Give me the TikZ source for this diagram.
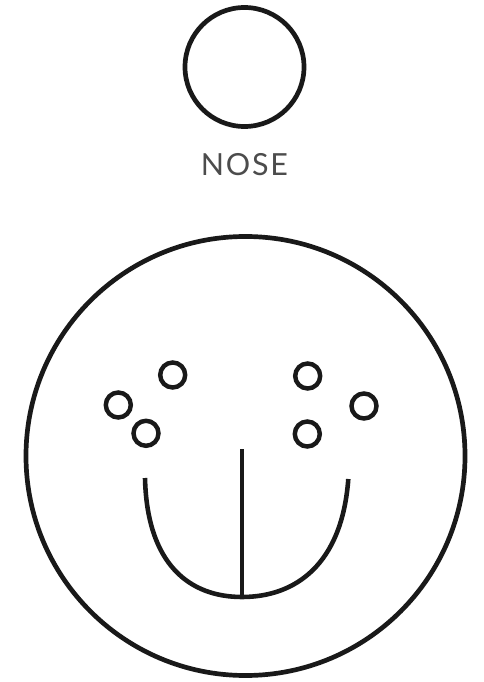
\documentclass[tikz,border=0pt]{standalone}
\usepackage{fontspec}
\newfontfamily\labelfont{Lato}
\usetikzlibrary{positioning}
\tikzset{
  ring/.style={draw=black!90,circle,line width=4pt,inner sep=0pt},
  dot/.style={ring,minimum size=0.75cm,line width=3.8pt},
  stroke/.style={draw=black!90,line width=3.9pt},
}
\begin{document}
\begin{tikzpicture}[x=0.03cm,y=-0.03cm]
  \useasboundingbox (0,0) rectangle (484,682);
  % nose and its label
  \node[ring,minimum size=3.57cm](nose)at(244.5,67){};
  \node[font=\labelfont\fontsize{26}{30}\selectfont,text=black!70,
        below=0.62cm of nose](noselabel){N\kern1.5pt O\kern1.5pt S\kern1.5pt E};
  % face
  \node[ring,minimum size=13.17cm](face)at(245.5,456){};
  % dots
  \node[dot](dotla)at(172.7,375){};
  \node[dot](dotlb)at(118.3,405){};
  \node[dot](dotlc)at(146,433.3){};
  \node[dot](dotra)at(307.7,376){};
  \node[dot](dotrb)at(364,406){};
  \node[dot](dotrc)at(307.3,434){};
  % mouth
  \coordinate(mouthl)at(145,478);
  \coordinate(mouthb)at(242,597);
  \coordinate(mouthr)at(348.3,479);
  \coordinate(stemtop)at(242,449);
  \draw[stroke](mouthl) .. controls (147,565) and (190,597) .. (mouthb)
    .. controls (295,597) and (342,565) .. (mouthr);
  \draw[stroke](stemtop) -- (mouthb);
\end{tikzpicture}
\end{document}
